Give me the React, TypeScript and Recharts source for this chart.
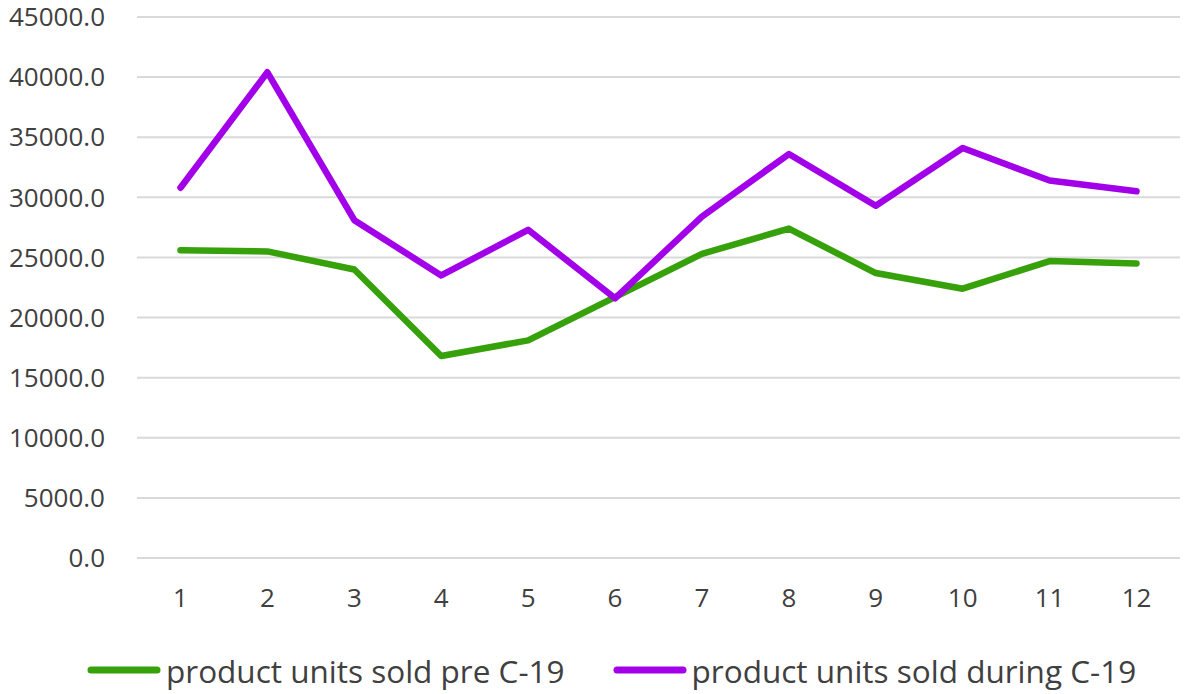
import React from "react";
import { LineChart, Line, XAxis, YAxis, CartesianGrid, Legend } from "recharts";

const months = ["1", "2", "3", "4", "5", "6", "7", "8", "9", "10", "11", "12"];
const preC19 = [25600, 25500, 24000, 16800, 18100, 21700, 25300, 27400, 23700, 22400, 24700, 24500];
const duringC19 = [30800, 40400, 28100, 23500, 27300, 21600, 28400, 33600, 29300, 34100, 31400, 30500];
const yTicks = [0, 5000, 10000, 15000, 20000, 25000, 30000, 35000, 40000, 45000];

const seriesNames = {
  pre: "product units sold pre C-19",
  during: "product units sold during C-19",
};
const legendOrder = ["pre", "during"];

const data = months.map((m, i) => ({ month: m, pre: preC19[i], during: duringC19[i] }));

const FONT = "'Open Sans', 'Noto Sans', sans-serif";
const TEXT = "#404040";

const LegendContent = (props: any) => {
  const payload = [...(props.payload || [])].sort(
    (a: any, b: any) => legendOrder.indexOf(a.dataKey) - legendOrder.indexOf(b.dataKey)
  );
  return (
    <div
      style={{
        display: "flex",
        alignItems: "center",
        height: 42,
        paddingLeft: 87,
        gap: 48,
        fontFamily: FONT,
        fontSize: 31.5,
        color: TEXT,
        whiteSpace: "nowrap",
      }}
    >
      {payload.map((p: any) => (
        <div key={p.value} style={{ display: "flex", alignItems: "center", gap: 5 }}>
          <svg width={74} height={42}>
            <line x1={4} y1={21} x2={70} y2={21} stroke={p.color} strokeWidth={7} strokeLinecap="round" />
          </svg>
          <span>{p.value}</span>
        </div>
      ))}
    </div>
  );
};

export default function App() {
  return (
    <div style={{ position: "absolute", left: 0, top: 0, background: "#fff" }}>
      <LineChart
        width={1190}
        height={694}
        data={data}
        margin={{ top: 17, right: 10, left: 0, bottom: 54 }}
      >
        <CartesianGrid vertical={false} stroke="#d9d9d9" strokeWidth={2} />
        <XAxis
          dataKey="month"
          axisLine={false}
          tickLine={false}
          tickSize={0}
          tickMargin={31}
          height={40}
          padding={{ left: 43.5, right: 43.5 }}
          tick={{ fill: TEXT, fontSize: 26, fontFamily: FONT }}
          interval={0}
        />
        <YAxis
          domain={[0, 45000]}
          ticks={yTicks}
          axisLine={false}
          tickLine={false}
          tickSize={0}
          tickMargin={32}
          width={137}
          tickFormatter={(v: number) => v.toFixed(1)}
          tick={{ fill: TEXT, fontSize: 26, fontFamily: FONT }}
          interval={0}
        />
        <Legend
          verticalAlign="bottom"
          content={<LegendContent />}
          wrapperStyle={{ left: 0, bottom: 3, width: 1190 }}
        />
        <Line
          dataKey="pre"
          name={seriesNames.pre}
          stroke="#36a10a"
          strokeWidth={6.5}
          strokeLinecap="round"
          strokeLinejoin="round"
          dot={false}
          activeDot={false}
          isAnimationActive={false}
        />
        <Line
          dataKey="during"
          name={seriesNames.during}
          stroke="#a100e8"
          strokeWidth={6.5}
          strokeLinecap="round"
          strokeLinejoin="round"
          dot={false}
          activeDot={false}
          isAnimationActive={false}
        />
      </LineChart>
    </div>
  );
}
